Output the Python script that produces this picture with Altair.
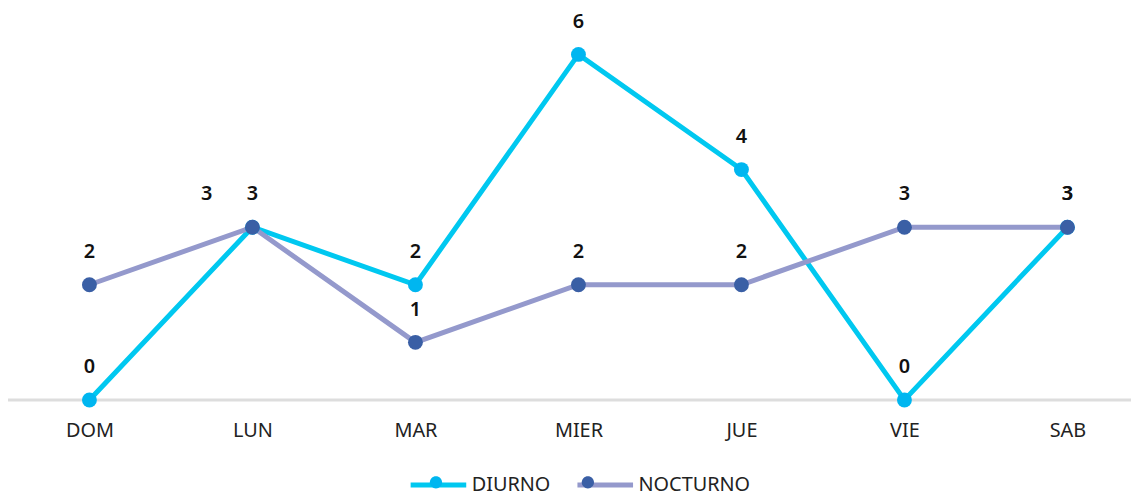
import altair as alt
import pandas as pd

dias = ["DOM", "LUN", "MAR", "MIER", "JUE", "VIE", "SAB"]
diurno = [0, 3, 2, 6, 4, 0, 3]
nocturno = [2, 3, 1, 2, 2, 3, 3]
series = ["DIURNO", "NOCTURNO"]
line_colors = ["#00c8f0", "#9499cc"]
point_colors = ["#00b6f0", "#3a5fa5"]

rows = []
for i, d in enumerate(dias):
    rows.append({"Dia": d, "Serie": "DIURNO", "Valor": diurno[i], "Serie2": "DIURNO"})
    rows.append({"Dia": d, "Serie": "NOCTURNO", "Valor": nocturno[i], "Serie2": "NOCTURNO"})
df = pd.DataFrame(rows)

FONT = "Noto Sans"
yscale = alt.Scale(domain=[0, 6.776], nice=False, zero=True)

x = alt.X("Dia:N", sort=dias, title=None,
          scale=alt.Scale(type="point", range=[82, 1067], padding=0),
          axis=alt.Axis(labelAngle=0, labelFont=FONT, labelFontSize=20, labelColor="#222222",
                        ticks=False, domain=False, labelPadding=21, grid=False))
y = alt.Y("Valor:Q", title=None, scale=yscale, axis=None)

base = alt.Chart(df)

baseline = alt.Chart(pd.DataFrame({"v": [0]})).mark_rule(color="#dddddd", strokeWidth=3).encode(
    y=alt.Y("v:Q", scale=yscale, axis=None, title=None)
)

LX, LY = 403, 448
lines = base.mark_line(strokeWidth=5).encode(
    x=x, y=y,
    color=alt.Color("Serie:N", scale=alt.Scale(domain=series, range=line_colors),
                    legend=alt.Legend(title=None, orient="none", legendX=LX, legendY=LY,
                                      direction="horizontal", symbolType="stroke",
                                      symbolSize=3136, symbolStrokeWidth=5,
                                      labelFont=FONT, labelFontSize=20, labelColor="#222222",
                                      labelOffset=3, columnPadding=16)),
)

circle_path = "M0.22,0 A0.22,0.22 0 1,1 -0.22,0 A0.22,0.22 0 1,1 0.22,0 Z"
points = base.mark_point(filled=True, size=225, opacity=1, shape="circle").encode(
    x=x, y=y,
    fill=alt.Fill("Serie2:N", scale=alt.Scale(domain=series, range=point_colors),
                  legend=alt.Legend(title=None, orient="none", legendX=LX, legendY=LY,
                                    direction="horizontal", symbolType=circle_path,
                                    symbolSize=3136, symbolStrokeWidth=0, symbolOpacity=1,
                                    labelExpr="''", labelFontSize=20,
                                    labelOffset=3, columnPadding=94, zindex=2)),
)

is_shift = "datum.Dia == 'LUN' && datum.Serie == 'DIURNO'"
labels = base.mark_text(font=FONT, fontSize=20, fontWeight=600, color="#111111",
                        dy=-33, baseline="middle").encode(
    x=x, y=y, text="Valor:Q"
).transform_filter("!(" + is_shift + ")")

labels_shift = base.mark_text(font=FONT, fontSize=20, fontWeight=600, color="#111111",
                              dy=-33, dx=-46, baseline="middle").encode(
    x=x, y=y, text="Valor:Q"
).transform_filter(is_shift)

chart = alt.layer(baseline, lines, points, labels, labels_shift).resolve_scale(
    color="independent", fill="independent"
).properties(
    width=1131, height=393,
    background="white",
    autosize=alt.AutoSizeParams(type="none"),
    padding={"top": 0, "left": 0, "right": 0, "bottom": 95},
).configure_view(stroke="transparent", strokeWidth=0)

chart.save("out.html", embed_options={"renderer": "svg", "actions": False})
